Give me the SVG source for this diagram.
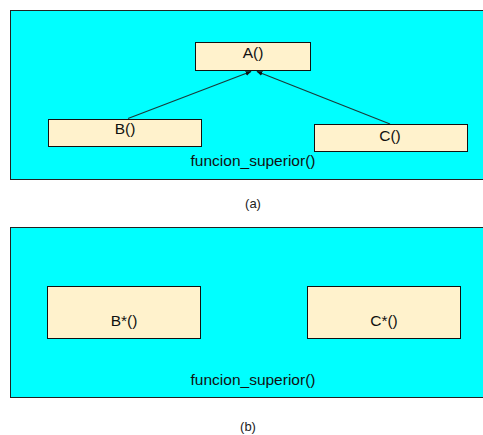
<svg xmlns="http://www.w3.org/2000/svg" width="483" height="435" viewBox="0 0 483 435">
<defs>
<style>
.panel{fill:#00FFFF;stroke:#222;stroke-width:1}
.box{fill:#FFF2CC;stroke:#111;stroke-width:1}
.t{font-family:"Liberation Sans",Arial,sans-serif;font-size:15.5px;fill:#111;text-anchor:middle}
.cap{font-family:"Liberation Sans",Arial,sans-serif;font-size:13px;fill:#222;text-anchor:middle}
.edge{stroke:#1a3a3a;stroke-width:1.2;fill:none;marker-end:url(#ah)}
</style>
<marker id="ah" viewBox="0 0 10 10" refX="9" refY="5" markerWidth="5" markerHeight="5" orient="auto">
<path d="M0,1 L10,5 L0,9 z" fill="#111"/>
</marker>
</defs>
<g id="panel-a">
<rect class="panel" x="10.5" y="10.5" width="480" height="169"/>
<text class="t" x="253" y="166">funcion_superior()</text>
</g>
<g id="connectors">
<line class="edge" x1="128" y1="118.5" x2="251" y2="71.5"/>
<line class="edge" x1="390" y1="124" x2="257" y2="71.5"/>
</g>
<g id="node-A">
<rect class="box" x="195.5" y="42.5" width="115" height="28"/>
<text class="t" x="253" y="58">A()</text>
</g>
<g id="node-B">
<rect class="box" x="48.5" y="119.5" width="153" height="27"/>
<text class="t" x="125" y="134">B()</text>
</g>
<g id="node-C">
<rect class="box" x="314.5" y="124.5" width="153" height="27"/>
<text class="t" x="390" y="141">C()</text>
</g>
<text class="cap" x="253" y="208">(a)</text>
<g id="panel-b">
<rect class="panel" x="10.5" y="227.5" width="480" height="170"/>
<text class="t" x="253" y="385">funcion_superior()</text>
</g>
<g id="node-Bstar">
<rect class="box" x="47.5" y="286.5" width="153" height="52"/>
<text class="t" x="124" y="326">B*()</text>
</g>
<g id="node-Cstar">
<rect class="box" x="307.5" y="286.5" width="153" height="52"/>
<text class="t" x="384" y="326">C*()</text>
</g>
<text class="cap" x="248" y="431">(b)</text>
</svg>
